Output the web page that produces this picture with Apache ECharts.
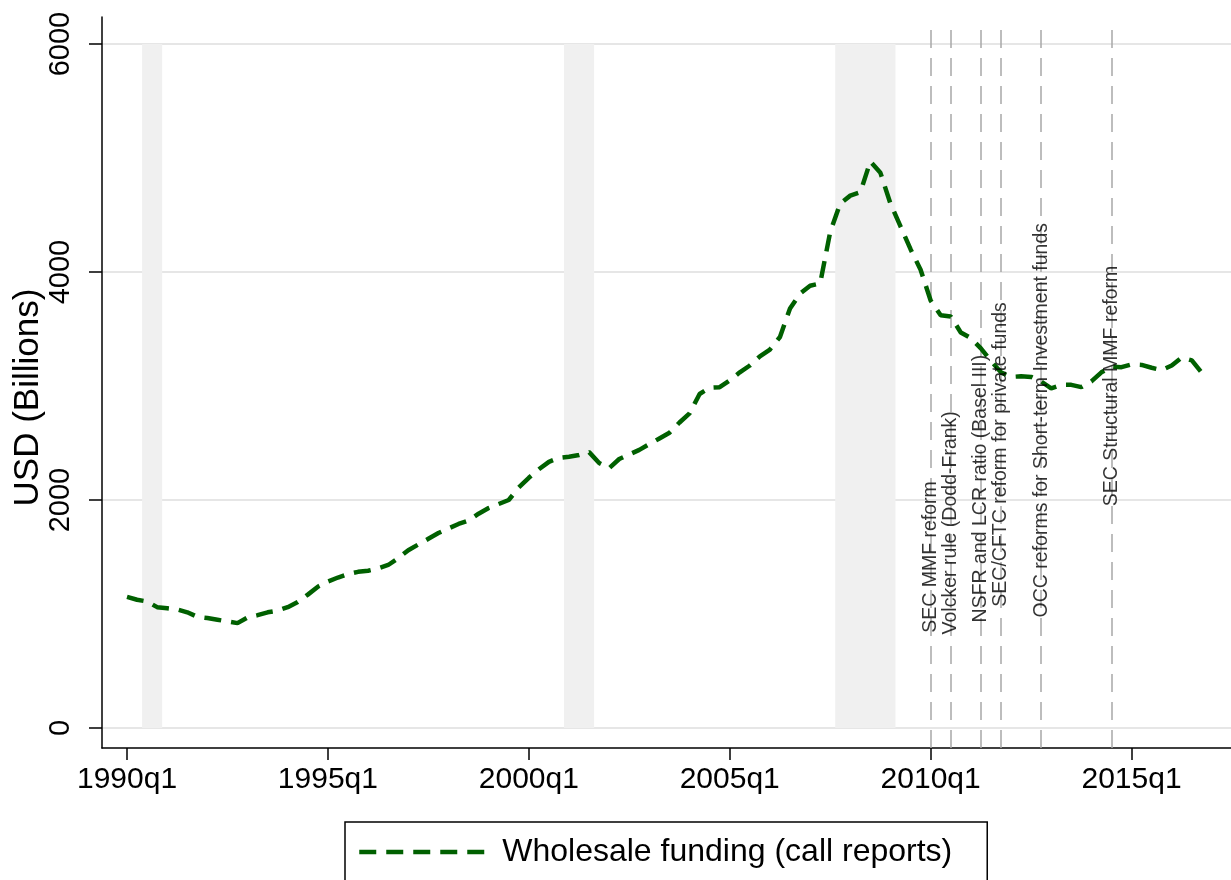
<!DOCTYPE html>
<html>
<head>
<meta charset="utf-8">
<script src="https://cdn.jsdelivr.net/npm/echarts@6/dist/echarts.min.js"></script>
<style>
html,body{margin:0;padding:0;background:#fff;}
#chart{width:1231px;height:880px;}
</style>
</head>
<body>
<div id="chart"></div>
<script>
// Quarterly series, 1990q1 .. 2016q4 (index 0 = 1990q1)
const startYear = 1990;
const wholesaleFunding = [
  1150,1125,1110,1060, 1050,1040,1015,975, 965,950,935,920, 970,990,1015,1030,
  1060,1105,1170,1240, 1285,1320,1350,1370, 1380,1400,1430,1490, 1560,1610,1660,1710,
  1750,1790,1820,1880, 1930,1965,2000,2110, 2195,2270,2335,2370, 2380,2395,2420,2325,
  2280,2360,2400,2440, 2490,2540,2590,2680, 2760,2930,2985,2990, 3050,3120,3180,3260,
  3320,3430,3680,3810, 3880,3900,4350,4600, 4670,4700,4970,4870, 4600,4400,4200,4020,
  3750,3620,3610,3470, 3420,3330,3220,3120, 3080,3085,3080,3040, 2980,3010,3010,2990,
  3040,3120,3170,3165, 3190,3185,3160,3140, 3180,3250,3225,3115
];
const xTickValues = [0, 20, 40, 60, 80, 100];
const xTickLabels = ['1990q1', '1995q1', '2000q1', '2005q1', '2010q1', '2015q1'];
const yTickValues = [0, 2000, 4000, 6000];
const yTickLabels = ['0', '2000', '4000', '6000'];
// Recession shading (quarter indices, inclusive)
const recessionStart = [2, 44, 71];
const recessionEnd = [3, 46, 76];
// Regulatory events
const eventQuarters = [80, 82, 85, 87, 91, 98];
const eventLabels = [
  'SEC MMF reform',
  'Volcker rule (Dodd-Frank)',
  'NSFR and LCR ratio (Basel III)',
  'SEC/CFTC reform for private funds',
  'OCC reforms for Short-term Investment funds',
  'SEC Structural MMF reform'
];
const eventLabelY = [1500, 1800, 2100, 2400, 2700, 3000];
const seriesName = 'Wholesale funding (call reports)';
const yTitle = 'USD (Billions)';

const FONT = "'Liberation Sans', Arial, sans-serif";
const GREEN = '#006000';
const lineData = wholesaleFunding.map((v, i) => [i, v]);

const chart = echarts.init(document.getElementById('chart'), null, {renderer: 'canvas'});
chart.setOption({
  animation: false,
  backgroundColor: '#ffffff',
  textStyle: {fontFamily: FONT},
  grid: {left: 102, right: 0, top: 17, height: 731, containLabel: false, outerBoundsMode: 'none'},
  xAxis: {
    type: 'value', min: -2.49, max: 109.9,
    axisLine: {show: true, onZero: false, lineStyle: {color: '#000', width: 1.5}},
    axisTick: {show: true, length: 12, customValues: xTickValues, lineStyle: {color: '#000', width: 1.5}},
    axisLabel: {show: true, customValues: xTickValues, margin: 17, fontSize: 30, color: '#000', fontFamily: FONT,
      formatter: v => xTickLabels[xTickValues.indexOf(v)] || ''},
    splitLine: {show: false}
  },
  yAxis: {
    type: 'value', min: -175.4, max: 6237,
    name: yTitle, nameLocation: 'middle', nameGap: 56, nameRotate: 90, nameMoveOverlap: false,
    nameTextStyle: {fontSize: 35, color: '#000', fontFamily: FONT, padding: [0, 30, 0, 0]},
    axisLine: {show: true, onZero: false, lineStyle: {color: '#000', width: 1.5}},
    axisTick: {show: true, length: 13, customValues: yTickValues, lineStyle: {color: '#000', width: 1.5}},
    axisLabel: {show: true, customValues: yTickValues, rotate: 90, margin: 27, fontSize: 29, color: '#000', fontFamily: FONT,
      formatter: v => yTickLabels[yTickValues.indexOf(v)] || ''},
    splitLine: {show: false}
  },
  legend: {
    show: true, left: 345, top: 822,
    data: [seriesName],
    itemWidth: 125, itemHeight: 30,
    padding: [14, 35, 30, 12],
    borderColor: '#000', borderWidth: 1.5,
    itemStyle: {color: 'rgba(0,0,0,0)', borderWidth: 0, opacity: 0},
    lineStyle: {color: GREEN, width: 4.5, type: [17, 10]},
    textStyle: {fontSize: 32, color: '#000', fontFamily: FONT, padding: [0, 0, 0, 13]}
  },
  series: [
    {
      type: 'line', name: 'grid', silent: true, data: [], z: 0,
      markLine: {
        silent: true, symbol: 'none', z: 0,
        label: {show: false},
        lineStyle: {color: '#e6e6e6', width: 2, type: 'solid'},
        data: yTickValues.map(v => ({yAxis: v}))
      }
    },
    {
      type: 'line', name: 'shade', silent: true, data: [], z: 1,
      markArea: {
        silent: true, z: 1,
        itemStyle: {color: '#f0f0f0'},
        data: recessionStart.map((s, i) => [
          {xAxis: s - 0.5, yAxis: yTickValues[0]},
          {xAxis: recessionEnd[i] + 0.5, yAxis: yTickValues[yTickValues.length - 1]}
        ])
      }
    },
    {
      type: 'line', name: 'events', silent: true, data: [], z: 2,
      markLine: {
        silent: true, symbol: 'none', z: 2,
        label: {show: false},
        lineStyle: {color: '#a8a8a8', width: 1.5, type: [18, 10]},
        data: eventQuarters.map(q => [{coord: [q, -175.4]}, {coord: [q, 6131]}])
      }
    },
    {
      type: 'scatter', name: 'eventLabels', silent: true, z: 4,
      symbolSize: 0, itemStyle: {color: 'rgba(0,0,0,0)'},
      data: eventQuarters.map((q, i) => ({value: [q, eventLabelY[i]], name: eventLabels[i]})),
      label: {show: true, position: 'inside', rotate: 90, formatter: '{b}', color: '#000',
        fontSize: 19.5, fontFamily: FONT, align: 'center', verticalAlign: 'middle'}
    },
    {
      type: 'line', name: seriesName, data: lineData, z: 3,
      symbol: 'none', smooth: false,
      lineStyle: {color: GREEN, width: 4.5, type: [17, 10]},
      itemStyle: {color: GREEN}
    }
  ]
});
</script>
</body>
</html>
